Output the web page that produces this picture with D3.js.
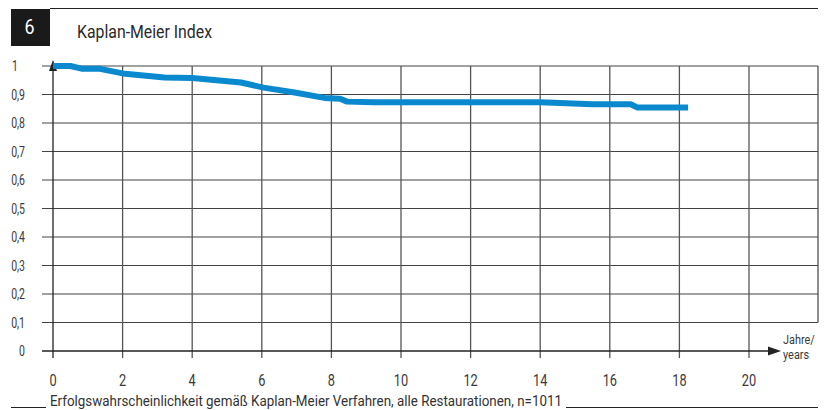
<!DOCTYPE html>
<html>
<head>
<meta charset="utf-8">
<script src="https://cdn.jsdelivr.net/npm/d3@7"></script>
<style>
  body { margin: 0; background: #fff; }
  svg { display: block; font-family: Roboto, "Liberation Sans", sans-serif; }
</style>
</head>
<body>
<svg id="chart" width="830" height="410"></svg>
<script>
// Kaplan-Meier curve
const years    = [0, 0.5, 0.85, 1.35, 2.0, 3.2, 4.0, 5.4, 6.05, 6.9, 7.8, 8.25, 8.45, 9.2, 14.0, 15.5, 16.6, 16.8, 18.25];
const survival = [1.0, 1.0, 0.99, 0.99, 0.974, 0.96, 0.958, 0.942, 0.924, 0.908, 0.888, 0.885, 0.875, 0.873, 0.873, 0.866, 0.866, 0.854, 0.854];

const xTicks = [0, 2, 4, 6, 8, 10, 12, 14, 16, 18, 20];
const yTicks = [0, 0.1, 0.2, 0.3, 0.4, 0.5, 0.6, 0.7, 0.8, 0.9, 1];
const figNo = "6";
const title = "Kaplan-Meier Index";
const caption = "Erfolgswahrscheinlichkeit gemäß Kaplan-Meier Verfahren, alle Restaurationen, n=1011";
const xUnit = ["Jahre/", "years"];

const svg = d3.select("#chart");
const ink = "#222";
const label = "#3a3a3a";
const gridCol = "#444";
const narrow = 0.75; // squeeze Roboto towards the condensed face of the original

const x = d3.scaleLinear().domain([0, 20]).range([53, 749]);
const y = d3.scaleLinear().domain([0, 1]).range([351, 66]);
const right = 818;

const at = (px, py, sx) => `translate(${px},${py}) scale(${sx},1)`;

// header
svg.append("line").attr("x1", 50).attr("x2", right).attr("y1", 8.5).attr("y2", 8.5)
  .attr("stroke", ink).attr("stroke-width", 1.2);
svg.append("rect").attr("x", 11).attr("y", 9).attr("width", 39).attr("height", 37).attr("fill", "#1a1a1a");
svg.append("text").attr("transform", at(29.5, 34, 0.85)).attr("text-anchor", "middle")
  .attr("fill", "#fff").attr("font-size", 21).text(figNo);
svg.append("text").attr("x", 77).attr("y", 38).attr("fill", "#2a2a2a").attr("font-size", 18)
  .attr("textLength", 135).attr("lengthAdjust", "spacingAndGlyphs").text(title);

const g = svg.append("g");

// horizontal grid (0.1 .. 1)
g.selectAll("line.h").data(yTicks.filter(d => d > 0)).enter().append("line")
  .attr("class", "h")
  .attr("x1", 42).attr("x2", right)
  .attr("y1", d => y(d)).attr("y2", d => y(d))
  .attr("stroke", gridCol).attr("stroke-width", 1.2);

// vertical grid
g.selectAll("line.v").data(xTicks.filter(d => d > 0)).enter().append("line")
  .attr("class", "v")
  .attr("x1", d => x(d)).attr("x2", d => x(d))
  .attr("y1", y(1)).attr("y2", y(0) + 7)
  .attr("stroke", "#555").attr("stroke-width", 1.3);

// right border
g.append("line").attr("x1", right).attr("x2", right).attr("y1", y(1)).attr("y2", y(0.1))
  .attr("stroke", gridCol).attr("stroke-width", 1.2);

// x axis with arrow
g.append("line").attr("x1", 42).attr("x2", 770).attr("y1", y(0)).attr("y2", y(0))
  .attr("stroke", ink).attr("stroke-width", 1.3);
g.append("path").attr("d", `M768,${y(0) - 4.5}L781,${y(0)}L768,${y(0) + 4.5}Z`).attr("fill", ink);

// y axis with arrow
g.append("line").attr("x1", x(0)).attr("x2", x(0)).attr("y1", y(0) + 7).attr("y2", 68)
  .attr("stroke", ink).attr("stroke-width", 1.3);
g.append("path").attr("d", `M${x(0) - 4},71L${x(0)},60L${x(0) + 4},71Z`).attr("fill", ink);

// tick labels
g.selectAll("text.yt").data(yTicks).enter().append("text")
  .attr("class", "yt")
  .attr("transform", d => at(d === 1 ? 12 : 25, y(d) + 5, narrow))
  .attr("text-anchor", d => d === 1 ? "start" : "end")
  .attr("font-size", 14).attr("fill", label)
  .text(d => d === 0 || d === 1 ? String(d) : d3.format(".1f")(d).replace(".", ","));

g.selectAll("text.xt").data(xTicks).enter().append("text")
  .attr("class", "xt")
  .attr("transform", d => at(x(d), 385.5, narrow))
  .attr("text-anchor", "middle")
  .attr("font-size", 17).attr("fill", label)
  .text(d => d);

svg.selectAll("text.unit").data(xUnit).enter().append("text")
  .attr("class", "unit")
  .attr("transform", (d, i) => at(783, 344 + i * 15, 0.84))
  .attr("font-size", 13).attr("fill", label)
  .text(d => d);

// curve
const line = d3.line().x(d => x(d[0])).y(d => y(d[1]));
svg.append("path")
  .datum(years.map((t, i) => [t, survival[i]]))
  .attr("d", line)
  .attr("fill", "none")
  .attr("stroke", "#0a89cf")
  .attr("stroke-width", 6)
  .attr("stroke-linejoin", "round");

// caption with rules
svg.append("line").attr("x1", 11).attr("x2", 46).attr("y1", 407.5).attr("y2", 407.5)
  .attr("stroke", ink).attr("stroke-width", 1.2);
svg.append("text").attr("x", 50).attr("y", 406).attr("font-size", 14).attr("fill", "#333")
  .attr("textLength", 512).attr("lengthAdjust", "spacingAndGlyphs").text(caption);
svg.append("line").attr("x1", 566).attr("x2", right).attr("y1", 407.5).attr("y2", 407.5)
  .attr("stroke", ink).attr("stroke-width", 1.2);
</script>
</body>
</html>
